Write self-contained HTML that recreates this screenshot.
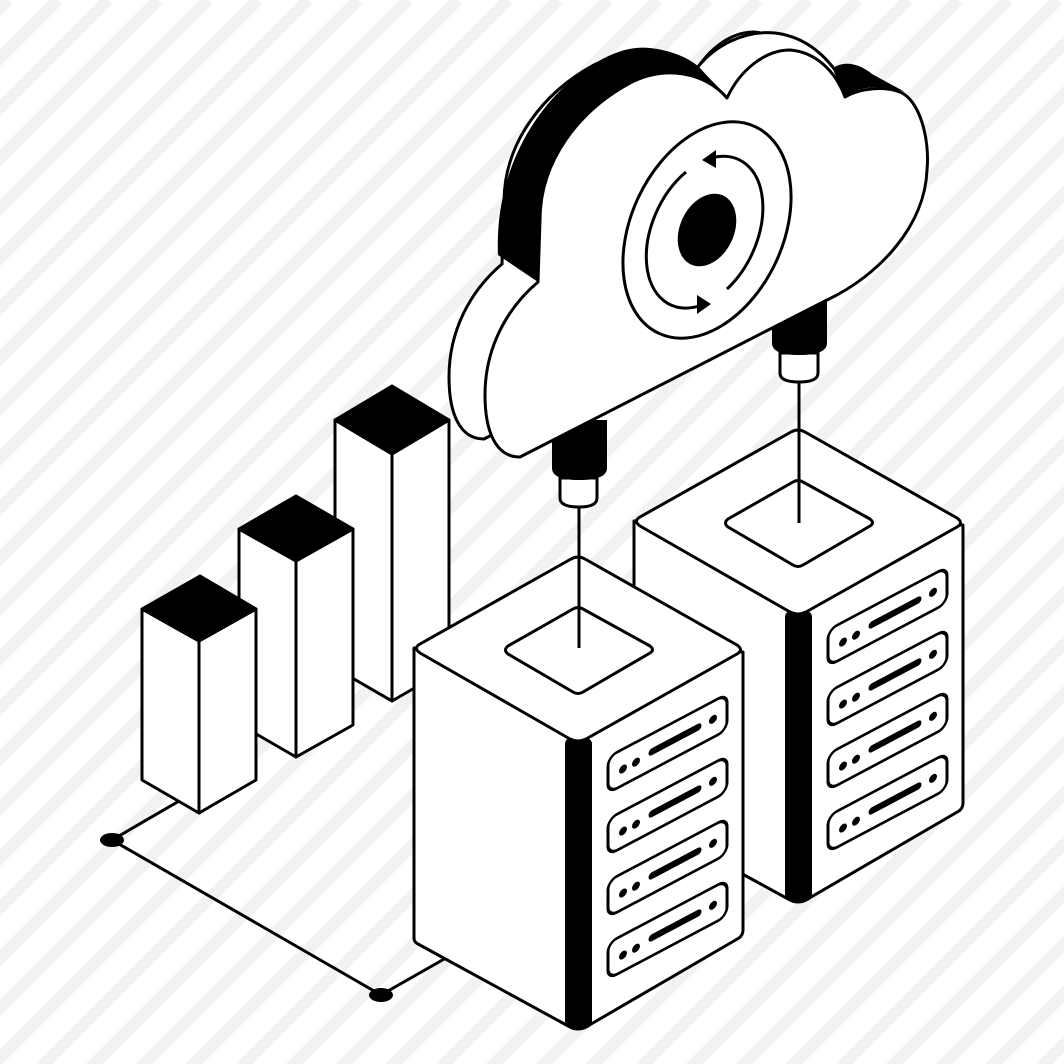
<!DOCTYPE html>
<html><head><meta charset="utf-8"><style>html,body{margin:0;padding:0;background:#fff}svg{display:block}</style></head>
<body>
<svg width="1064" height="1064" viewBox="0 0 1064 1064" xmlns="http://www.w3.org/2000/svg">
<defs>
<g id="slot">
<g transform="matrix(1,-0.53,0,1,0,0)">
<rect x="0" y="0" width="119" height="36" rx="9" fill="#fff" stroke="#000" stroke-width="3"/>
<circle cx="15" cy="20" r="4" fill="#000"/>
<circle cx="28" cy="20" r="4" fill="#000"/>
<line x1="44" y1="18" x2="90" y2="18" stroke="#000" stroke-width="7" stroke-linecap="round"/>
<circle cx="105" cy="18" r="4" fill="#000"/>
</g>
</g>
<g id="server">
<path d="M414 648 L414 938 Q414 942 418 944 L570 1027 Q578 1031 586 1027 L739 938 Q743 935 743 930 L743 652 Z" fill="#fff" stroke="#000" stroke-width="3" stroke-linejoin="round"/>
<rect x="565" y="738" width="27" height="290" rx="6" fill="#000"/>
<path d="M571 559 Q578 555 585 559 L737 645 Q744 650 737 654 L586 739 Q578 743 570 739 L420 653 Q413 648 420 644 Z" fill="#fff" stroke="#000" stroke-width="3" stroke-linejoin="round"/>
<path d="M573 609 Q578 606 583 609 L650 646 Q655 650 650 653 L583 692 Q578 695 573 692 L508 654 Q503 650 508 646 Z" fill="#fff" stroke="#000" stroke-width="3" stroke-linejoin="round"/>
<use href="#slot" transform="translate(608,757)"/>
<use href="#slot" transform="translate(608,819)"/>
<use href="#slot" transform="translate(608,881)"/>
<use href="#slot" transform="translate(608,943)"/>
</g>
<path id="cloudf" d="M520 457 L827 300 C880 275 925 225 927 170 C930 140 920 100 900 92 C885 86 860 88 845 97 C835 70 815 52 790 50 C765 50 740 70 727 98 C705 72 665 65 630 83 C580 110 540 160 540 220 L538 282 C505 310 485 350 485 395 C485 430 495 457 520 457 Z"/>
</defs>
<rect width="1064" height="1064" fill="#fff"/>
<g stroke="#f2f2f2" stroke-width="12">
<path d="M8 0 L-1092 1100 M58 0 L-1042 1100 M108 0 L-992 1100 M158 0 L-942 1100 M208 0 L-892 1100 M258 0 L-842 1100 M308 0 L-792 1100 M358 0 L-742 1100 M408 0 L-692 1100 M458 0 L-642 1100 M508 0 L-592 1100 M558 0 L-542 1100 M608 0 L-492 1100 M658 0 L-442 1100 M708 0 L-392 1100 M758 0 L-342 1100 M808 0 L-292 1100 M858 0 L-242 1100 M908 0 L-192 1100 M958 0 L-142 1100 M1008 0 L-92 1100 M1058 0 L-42 1100 M1108 0 L8 1100 M1158 0 L58 1100 M1208 0 L108 1100 M1258 0 L158 1100 M1308 0 L208 1100 M1358 0 L258 1100 M1408 0 L308 1100 M1458 0 L358 1100 M1508 0 L408 1100 M1558 0 L458 1100 M1608 0 L508 1100 M1658 0 L558 1100 M1708 0 L608 1100 M1758 0 L658 1100 M1808 0 L708 1100 M1858 0 L758 1100 M1908 0 L808 1100 M1958 0 L858 1100 M2008 0 L908 1100 M2058 0 L958 1100 M2108 0 L1008 1100 M2158 0 L1058 1100 M2208 0 L1108 1100"/>
</g>

<g stroke="#000" stroke-width="3" fill="none">
<line x1="112" y1="840" x2="205" y2="786"/>
<line x1="112" y1="840" x2="381" y2="995"/>
<line x1="381" y1="995" x2="460" y2="950"/>
</g>
<ellipse cx="112" cy="840" rx="12" ry="7" fill="#000"/>
<ellipse cx="381" cy="995" rx="12" ry="7" fill="#000"/>

<g stroke="#000" stroke-width="3" stroke-linejoin="round" fill="#fff">
<polygon points="335,420 392,454 392,701 335,668"/>
<polygon points="392,454 449,420 449,668 392,701"/>
<polygon points="392,386 449,420 392,454 335,420" fill="#000"/>
<polygon points="239,529 296,561 296,757 239,724"/>
<polygon points="296,561 353,529 353,725 296,757"/>
<polygon points="296,496 353,529 296,561 239,529" fill="#000"/>
<polygon points="142,609 199,641 199,813 142,780"/>
<polygon points="199,641 256,609 256,780 199,813"/>
<polygon points="200,576 256,609 199,641 142,609" fill="#000"/>
</g>

<use href="#server" transform="translate(220,-127)"/>
<use href="#server"/>

<g stroke="#000" stroke-width="3">
<line x1="579" y1="505" x2="579" y2="648"/>
<line x1="799" y1="380" x2="799" y2="523"/>
</g>
<g stroke="#000" stroke-width="3">
<path d="M560 478 L560 498 Q560 507 579 507 Q597 507 597 498 L597 478 Z" fill="#fff"/>
<path d="M780 353 L780 373 Q780 382 799 382 Q818 382 818 373 L818 353 Z" fill="#fff"/>
</g>
<path d="M552 420 L552 468 Q552 480 579 480 Q607 480 607 468 L607 420 Z" fill="#000"/>
<path d="M772 295 L772 343 Q772 355 799 355 Q827 355 827 343 L827 295 Z" fill="#000"/>

<use href="#cloudf" transform="translate(-36,-18)" fill="#fff" stroke="#000" stroke-width="3"/>
<path d="M697 68 C715 45 745 30 775 33 C800 36 820 50 835 70 L845 97 L727 98 Z" fill="#fff" stroke="#000" stroke-width="3" stroke-linejoin="round"/>
<path d="M538 282 L498 255 C495 190 520 120 580 73 C610 52 630 46 650 48 C670 50 690 58 700 68 L727 98 C705 72 665 65 630 83 C580 110 540 160 540 220 Z" fill="#000"/>
<path d="M833 68 C845 60 860 64 872 74 L905 92 C890 86 870 86 858 90 L845 97 Z" fill="#000"/>
<use href="#cloudf" fill="#fff" stroke="#000" stroke-width="3" stroke-linejoin="round"/>

<ellipse cx="707" cy="230" rx="76" ry="114" transform="rotate(25 707 230)" fill="none" stroke="#000" stroke-width="3"/>
<path d="M713.8 157.4 A52 80 25 0 1 727 289" fill="none" stroke="#000" stroke-width="3"/>
<path d="M699 306 A52 80 25 0 1 686 172" fill="none" stroke="#000" stroke-width="3"/>
<polygon points="702,160 716,150 716,168" fill="#000"/>
<polygon points="711,304 697,295 697,314" fill="#000"/>
<ellipse cx="707" cy="230" rx="27" ry="38" transform="rotate(25 707 230)" fill="#000"/>
</svg>
</body></html>
